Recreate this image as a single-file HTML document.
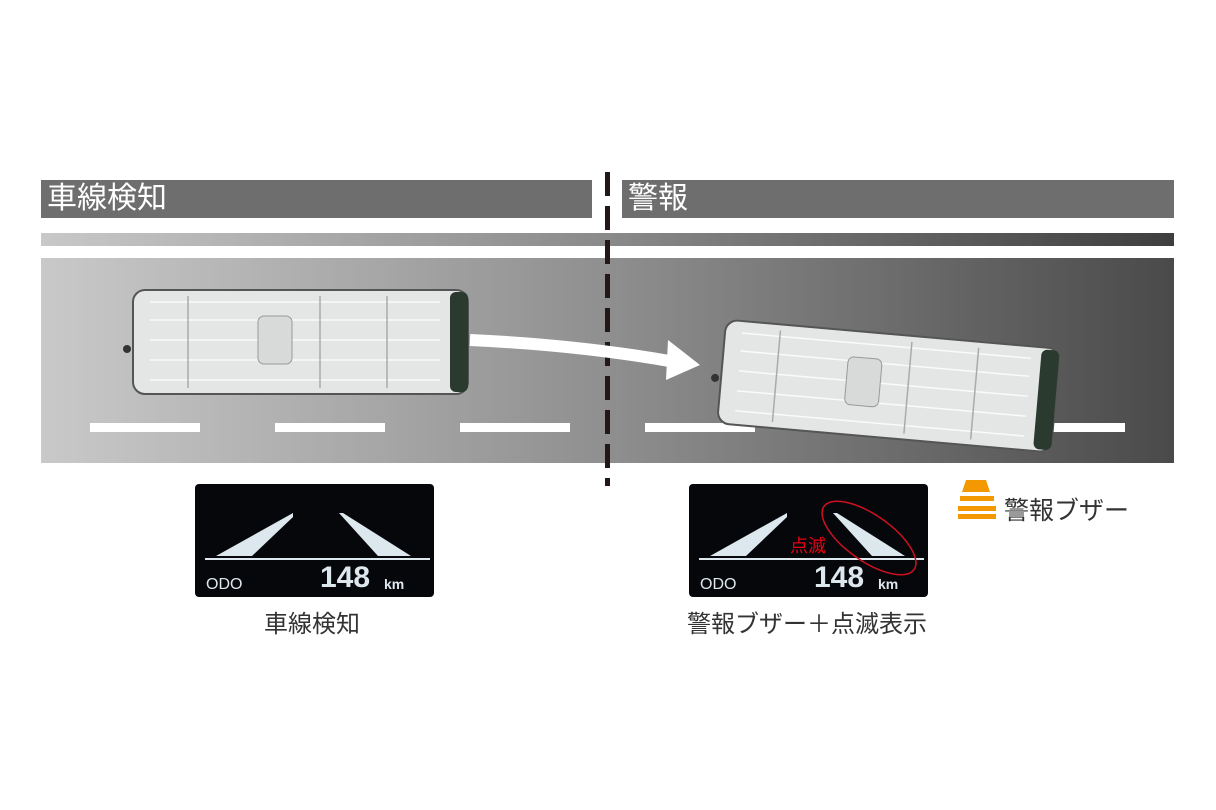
<!DOCTYPE html>
<html><head><meta charset="utf-8"><style>
body{margin:0;width:1216px;height:810px;background:#fff;position:relative;overflow:hidden;font-family:"Liberation Sans","Noto Sans CJK JP",sans-serif}
.a{position:absolute}
.hdr{background:#6e6e6e;color:#fff;font-size:30px;line-height:38px;padding-left:6px;box-sizing:border-box}
.disp{background:#05070b;border-radius:4px}
.cap{font-size:24px;color:#333}
</style></head><body>
<div class="a hdr" style="left:41px;top:180px;width:551px;height:38px">車線検知</div>
<div class="a hdr" style="left:622px;top:180px;width:552px;height:38px">警報</div>
<div class="a" style="left:41px;top:233px;width:1133px;height:13px;background:linear-gradient(90deg,#c8c8c8,#8a8a8a 50%,#3e3e3e)"></div>
<div class="a" style="left:41px;top:258px;width:1133px;height:205px;background:linear-gradient(90deg,#c9c9c9,#8f8f8f 50%,#4a4a4a)"></div>
<div class="a" style="left:605px;top:172px;width:5px;height:314px;background:repeating-linear-gradient(180deg,#231815 0 24px,transparent 24px 34px)"></div>
<svg class="a" style="left:0;top:0" width="1216" height="810">
<g fill="#fff">
<rect x="90" y="423" width="110" height="9"/><rect x="275" y="423" width="110" height="9"/><rect x="460" y="423" width="110" height="9"/>
<rect x="645" y="423" width="110" height="9"/><rect x="830" y="423" width="110" height="9"/><rect x="1015" y="423" width="110" height="9"/>
</g>
<path d="M470 340 Q580 345 675 362" stroke="#fff" stroke-width="12" fill="none"/>
<polygon points="668,340 700,365 666,380" fill="#fff"/>
<g id="van">
<rect x="133" y="290" width="335" height="104" rx="12" fill="#e4e6e6" stroke="#555" stroke-width="2"/>
<rect x="450" y="292" width="18" height="100" rx="6" fill="#2a3a2e"/>
<g stroke="#fff" stroke-width="1.5" opacity=".8">
<line x1="150" y1="302" x2="440" y2="302"/><line x1="150" y1="320" x2="440" y2="320"/><line x1="150" y1="340" x2="440" y2="340"/><line x1="150" y1="360" x2="440" y2="360"/><line x1="150" y1="380" x2="440" y2="380"/>
</g>
<g stroke="#aaa" stroke-width="1.5"><line x1="188" y1="296" x2="188" y2="388"/><line x1="320" y1="296" x2="320" y2="388"/><line x1="387" y1="296" x2="387" y2="388"/></g>
<rect x="258" y="316" width="34" height="48" rx="6" fill="#d8dada" stroke="#999"/>
<circle cx="127" cy="349" r="4" fill="#333"/>
</g>
<use href="#van" transform="translate(888 386) rotate(5) translate(-300 -342)"/>
</svg>
<div class="a disp" style="left:195px;top:484px;width:239px;height:113px"></div>
<div class="a disp" style="left:689px;top:484px;width:239px;height:113px"></div>
<svg class="a" style="left:0;top:0" width="1216" height="810">
<g fill="#dde8ee">
<polygon points="216,556 293,513 293,517 252,556"/><polygon points="339,513 343,513 411,556 378,556"/>
<rect x="205" y="558" width="225" height="2"/>
<polygon points="710,556 787,513 787,517 746,556"/><polygon points="833,513 837,513 905,556 872,556"/>
<rect x="699" y="558" width="225" height="2"/>
</g>
<ellipse cx="869" cy="538" rx="55" ry="23" transform="rotate(35 869 538)" fill="none" stroke="#d01020" stroke-width="1.5"/>
<g fill="#f39800"><polygon points="966,480 986,480 990,492 962,492"/><rect x="960" y="496" width="34" height="5"/><rect x="958" y="506" width="38" height="5"/><rect x="958" y="514" width="38" height="5"/></g>
</svg>
<div class="a" style="left:206px;top:576px;color:#dde8ee;font-size:16px">ODO</div>
<div class="a" style="left:320px;top:561px;color:#dde8ee;font-size:30px;font-weight:bold">148</div>
<div class="a" style="left:384px;top:576px;color:#dde8ee;font-size:14px;font-weight:bold">km</div>
<div class="a" style="left:700px;top:576px;color:#dde8ee;font-size:16px">ODO</div>
<div class="a" style="left:814px;top:561px;color:#dde8ee;font-size:30px;font-weight:bold">148</div>
<div class="a" style="left:878px;top:576px;color:#dde8ee;font-size:14px;font-weight:bold">km</div>
<div class="a" style="left:790px;top:532px;color:#e60012;font-size:18px">点滅</div>
<div class="a" style="left:1004px;top:491px;color:#333;font-size:25px">警報ブザー</div>
<div class="a cap" style="left:264px;top:604px">車線検知</div>
<div class="a cap" style="left:687px;top:604px">警報ブザー＋点滅表示</div>
</body></html>
